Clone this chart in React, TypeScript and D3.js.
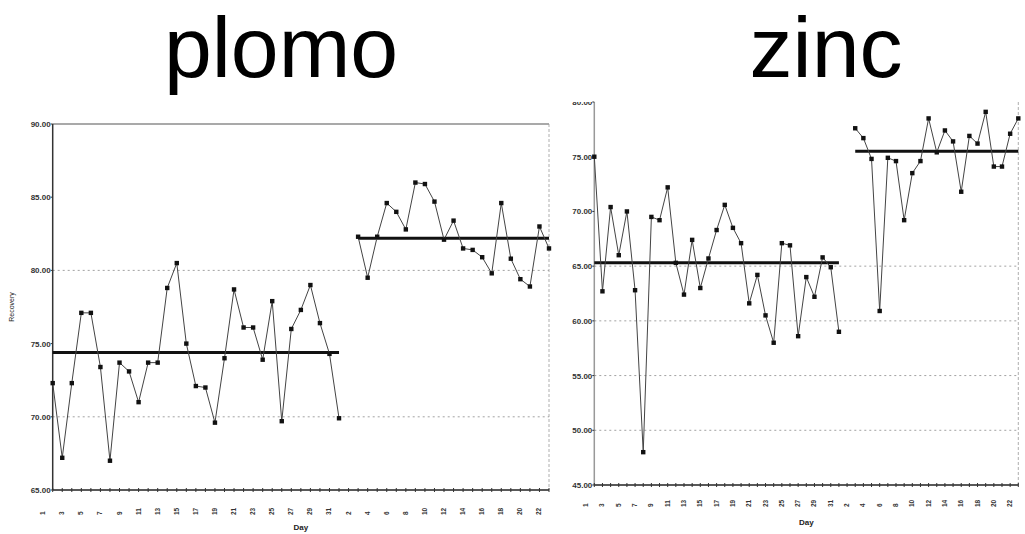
import { useEffect, useRef } from "react";
import * as d3 from "d3";

// Recovery values (day order); gap of one slot between the two runs
const plomoRun1 = [72.3, 67.2, 72.3, 77.1, 77.1, 73.4, 67.0, 73.7, 73.1, 71.0, 73.7, 73.7, 78.8, 80.5, 75.0, 72.1, 72.0, 69.6, 74.0, 78.7, 76.1, 76.1, 73.9, 77.9, 69.7, 76.0, 77.3, 79.0, 76.4, 74.3, 69.9];
const plomoRun2 = [82.3, 79.5, 82.3, 84.6, 84.0, 82.8, 86.0, 85.9, 84.7, 82.1, 83.4, 81.5, 81.4, 80.9, 79.8, 84.6, 80.8, 79.4, 78.9, 83.0, 81.5];
const plomoMeans = [74.4, 82.2];
const plomoTicks = [65, 70, 75, 80, 85, 90];
const plomoGrid = [70, 80];

const zincRun1 = [75.0, 62.7, 70.4, 66.0, 70.0, 62.8, 48.0, 69.5, 69.2, 72.2, 65.3, 62.4, 67.4, 63.0, 65.7, 68.3, 70.6, 68.5, 67.1, 61.6, 64.2, 60.5, 58.0, 67.1, 66.9, 58.6, 64.0, 62.2, 65.8, 64.9, 59.0];
const zincRun2 = [77.6, 76.7, 74.8, 60.9, 74.9, 74.6, 69.2, 73.5, 74.6, 78.5, 75.4, 77.4, 76.4, 71.8, 76.9, 76.2, 79.1, 74.1, 74.1, 77.1, 78.5];
const zincMeans = [65.3, 75.5];
const zincTicks = [45, 50, 55, 60, 65, 70, 75, 80];
const zincGrid = [50, 55, 60, 65];

const GAP = 1; // empty day slot between runs

interface PanelCfg {
  id: string;
  title: string;
  titleX: number;
  run1: number[];
  run2: number[];
  means: number[];
  ticks: number[];
  grid: number[];
  domain: [number, number];
  left: number;
  right: number;
  top: number;
  bottom: number;
  topBorder: boolean;
  yTitle: boolean;
  dayLabelY: number;
  clipTop: number;
}

const panels: PanelCfg[] = [
  {
    id: "plomo", title: "plomo", titleX: 281, run1: plomoRun1, run2: plomoRun2, means: plomoMeans,
    ticks: plomoTicks, grid: plomoGrid, domain: [65, 90],
    left: 52.7, right: 549, top: 124, bottom: 490, topBorder: true, yTitle: true, dayLabelY: 515, clipTop: 110,
  },
  {
    id: "zinc", title: "zinc", titleX: 826, run1: zincRun1, run2: zincRun2, means: zincMeans,
    ticks: zincTicks, grid: zincGrid, domain: [45, 80],
    left: 594.3, right: 1018.3, top: 102, bottom: 485, topBorder: false, yTitle: false, dayLabelY: 507, clipTop: 102,
  },
];

const App = () => {
  const svgRef = useRef<SVGSVGElement>(null);

  useEffect(() => {
    if (!svgRef.current) return;
    const svg = d3.select(svgRef.current);
    svg.selectAll("*").remove();

    panels.forEach((p) => {
      const n1 = p.run1.length;
      const total = n1 + GAP + p.run2.length;
      const x = d3.scaleLinear().domain([0, total - 1]).range([p.left, p.right]);
      const y = d3.scaleLinear().domain(p.domain).range([p.bottom, p.top]);
      const step = x(1) - x(0);
      const g = svg.append("g");

      // big title
      g.append("text")
        .attr("x", p.titleX)
        .attr("y", 77)
        .attr("text-anchor", "middle")
        .style("font-family", "'Liberation Sans', Arial, sans-serif")
        .style("font-size", "86px")
        .style("fill", "#000")
        .text(p.title);

      // gridlines
      g.selectAll(".grid")
        .data(p.grid)
        .join("line")
        .attr("x1", p.left)
        .attr("x2", p.right)
        .attr("y1", (d) => y(d))
        .attr("y2", (d) => y(d))
        .attr("stroke", "#8a8a8a")
        .attr("stroke-width", 0.8)
        .attr("stroke-dasharray", "2,3");

      // frame
      if (p.topBorder) {
        g.append("line")
          .attr("x1", p.left).attr("x2", p.right)
          .attr("y1", p.top).attr("y2", p.top)
          .attr("stroke", "#555").attr("stroke-width", 1.2);
      }
      g.append("line")
        .attr("x1", p.right).attr("x2", p.right)
        .attr("y1", p.top).attr("y2", p.bottom)
        .attr("stroke", "#999").attr("stroke-width", 0.8)
        .attr("stroke-dasharray", "3,2");
      g.append("line")
        .attr("x1", p.left).attr("x2", p.left)
        .attr("y1", p.top).attr("y2", p.bottom)
        .attr("stroke", p.topBorder ? "#333" : "#999").attr("stroke-width", 1.5);

      // y ticks + labels (top label of zinc is cut off in the source)
      const clipId = `clip-${p.id}`;
      g.append("clipPath").attr("id", clipId)
        .append("rect").attr("x", 0).attr("y", p.clipTop).attr("width", 1025).attr("height", 534);
      const yt = g.append("g").attr("clip-path", `url(#${clipId})`);
      yt.selectAll("text")
        .data(p.ticks)
        .join("text")
        .attr("x", p.left - 2)
        .attr("y", (d) => y(d) + 3)
        .attr("text-anchor", "end")
        .style("font-family", "'Liberation Sans', Arial, sans-serif")
        .style("font-size", "8px")
        .style("font-weight", "bold")
        .style("fill", "#333")
        .text((d) => d3.format(".2f")(d));
      g.selectAll(".ytick")
        .data(p.ticks)
        .join("line")
        .attr("x1", p.left - 2).attr("x2", p.left)
        .attr("y1", (d) => y(d)).attr("y2", (d) => y(d))
        .attr("stroke", "#333").attr("stroke-width", 1);

      // bottom axis
      g.append("line")
        .attr("x1", p.left).attr("x2", p.right)
        .attr("y1", p.bottom).attr("y2", p.bottom)
        .attr("stroke", "#222").attr("stroke-width", 1.6);
      const idx = d3.range(total);
      g.selectAll(".xtick")
        .data(idx)
        .join("line")
        .attr("x1", (d) => x(d)).attr("x2", (d) => x(d))
        .attr("y1", p.bottom - 2).attr("y2", p.bottom + 2)
        .attr("stroke", "#333").attr("stroke-width", 1);

      // day labels (every other slot, numbering restarts for run 2)
      g.selectAll(".daylab")
        .data(idx.filter((i) => i % 2 === 0))
        .join("text")
        .attr("transform", (d) => `translate(${x(d) - step + 2},${p.dayLabelY}) rotate(-90)`)
        .attr("text-anchor", "start")
        .style("font-family", "'Liberation Sans', Arial, sans-serif")
        .style("font-size", "6.5px")
        .style("font-weight", "bold")
        .style("fill", "#333")
        .text((d) => String(d < n1 ? d + 1 : d - n1 + GAP));

      g.append("text")
        .attr("x", (p.left + p.right) / 2)
        .attr("y", p.bottom + 40)
        .attr("text-anchor", "middle")
        .style("font-family", "'Liberation Sans', Arial, sans-serif")
        .style("font-size", "8px")
        .style("font-weight", "bold")
        .style("fill", "#222")
        .text("Day");

      if (p.yTitle) {
        g.append("text")
          .attr("transform", `translate(14,${(p.top + p.bottom) / 2}) rotate(-90)`)
          .attr("text-anchor", "middle")
          .style("font-family", "'Liberation Sans', Arial, sans-serif")
          .style("font-size", "7px")
          .style("fill", "#222")
          .text("Recovery");
      }

      // mean lines
      const runs = [
        { vals: p.run1, start: 0 },
        { vals: p.run2, start: n1 + GAP },
      ];
      runs.forEach((r, k) => {
        g.append("line")
          .attr("x1", x(r.start))
          .attr("x2", x(r.start + r.vals.length - 1))
          .attr("y1", y(p.means[k]))
          .attr("y2", y(p.means[k]))
          .attr("stroke", "#111")
          .attr("stroke-width", 3);
      });

      // data lines + markers
      runs.forEach((r) => {
        const pts = r.vals.map((v, i) => [x(r.start + i), y(v)] as [number, number]);
        g.append("path")
          .attr("d", d3.line()(pts))
          .attr("fill", "none")
          .attr("stroke", "#444")
          .attr("stroke-width", 1);
        g.selectAll(null)
          .data(pts)
          .join("rect")
          .attr("x", (d) => d[0] - 2.2)
          .attr("y", (d) => d[1] - 2.2)
          .attr("width", 4.4)
          .attr("height", 4.4)
          .attr("fill", "#111");
      });
    });
  }, []);

  return (
    <svg
      ref={svgRef}
      width={1025}
      height={534}
      style={{ position: "absolute", left: 0, top: 0, background: "#fff" }}
    />
  );
};

export default App;
